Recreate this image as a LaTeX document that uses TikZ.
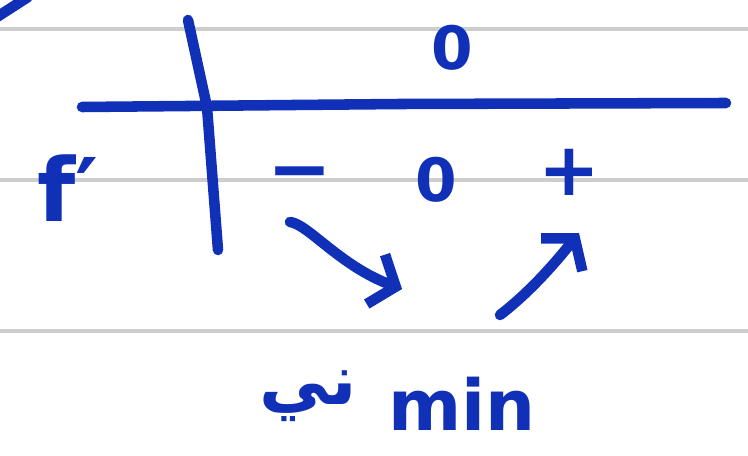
\documentclass[tikz,border=0pt]{standalone}
\usepackage{fontspec}
\setmainfont{DejaVu Sans}
\newfontfamily\arabicfont[Script=Arabic]{DejaVu Sans}
\TeXXeTstate=1
\usetikzlibrary{arrows.meta,positioning}
\definecolor{inkblue}{RGB}{16,48,184}
\definecolor{ruleline}{RGB}{205,205,205}

\begin{document}
\begin{tikzpicture}[
    x=0.02cm, y=-0.02cm,
    ink/.style={draw=inkblue, line width=6pt, line cap=round},
    rule/.style={draw=ruleline, line width=2.6pt},
    sign/.style={text=inkblue, inner sep=0pt, font=\fontsize{34}{34}\selectfont\bfseries},
    word/.style={text=inkblue, inner sep=0pt, font=\fontsize{40}{40}\selectfont\bfseries},
    arrow/.style={ink, -{Straight Barb[length=12pt, width=30pt]}}
  ]
    \useasboundingbox[fill=white] (0,0) rectangle (748,456);

    % ruled paper
    \draw[rule] (0,29) -- (748,29);
    \draw[rule] (0,180) -- (748,180);
    \draw[rule] (0,331) -- (748,331);
    \draw[ink] (-3,17) -- (28,-3);

    % sign table
    \draw[ink] (82,107) -- (400,104) -- (726,103);
    \draw[ink] (188,20) -- (207,107) -- (218,250);

    \node[word, font=\fontsize{50}{50}\selectfont\bfseries] (fprime) at (68,188) {f′};
    \node[sign] (zerotop) at (452,48) {0};
    \node[sign, font=\fontsize{44}{44}\selectfont\bfseries] (minus) at (300,181) {−};
    \node[sign] (zero) at (436,180) {0};
    \node[sign, font=\fontsize{42}{42}\selectfont\bfseries] (plus) at (569,172) {+};

    \node[word] (nun) at (308,396) {\arabicfont\beginR ني\endR};
    \node[word] (minlabel) at (462,404) {min};

    % variation arrows
    \coordinate (downstart) at (290,222);
    \coordinate (downend) at (402,289);
    \coordinate (upstart) at (500,315);
    \coordinate (upend) at (579,233);
    \draw[arrow] (downstart) .. controls (308,224) and (340,266) .. (downend);
    \draw[arrow] (upstart) .. controls (530,292) and (556,262) .. (upend);
  \end{tikzpicture}
\end{document}
